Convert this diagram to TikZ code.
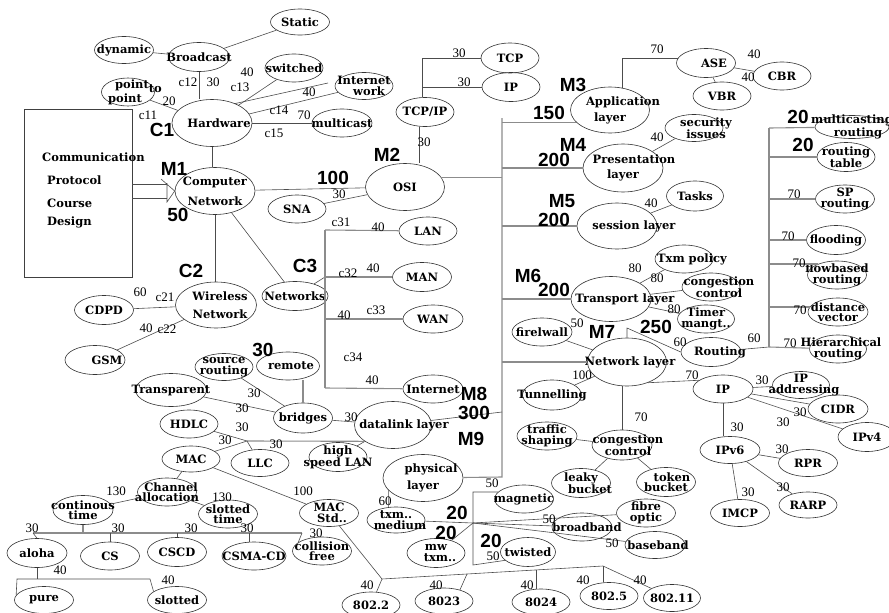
\documentclass[tikz,border=0pt]{standalone}
\usepackage{fontspec}
\setmainfont{Liberation Serif}
\newfontfamily\ellserif{DejaVu Serif}
\newfontfamily\tagsans{Liberation Sans}
\usetikzlibrary{shapes.geometric}

\newcommand{\ellfont}{\ellserif\bfseries\fontsize{11.5}{10.5}\selectfont}
\newcommand{\wtfont}{\fontsize{13}{13}\selectfont}
\newcommand{\tagfont}{\tagsans\bfseries\fontsize{19}{19}\selectfont}

\tikzset{
  topic/.style={ellipse, draw=black!80, line width=0.6pt, minimum width=59pt, minimum height=28pt,
                inner xsep=-70pt, inner ysep=-6pt, align=center, font=\ellfont},
  layer/.style={topic, minimum width=80pt, minimum height=47pt},
  wt/.style={inner sep=0pt, font=\wtfont},
  tag/.style={inner sep=0pt, font=\tagfont},
  boxtxt/.style={inner sep=0pt, anchor=west, font=\ellfont},
  link/.style={draw=black!70, line width=0.6pt},
  bus/.style={draw=black!45, line width=1.1pt},
}

\begin{document}
\begin{tikzpicture}[x=1pt,y=-1pt]
  \useasboundingbox (0,0) rectangle (889,613) ;

  % course box
  \node[draw=black!75, line width=0.6pt, minimum width=108pt, minimum height=168pt, inner sep=0pt] (cpcd) at (78,193) {} ; %
  \node[boxtxt] (cpcd-a) at (42,157) {Communication} ; %
  \node[boxtxt] (cpcd-b) at (47,180) {Protocol} ; %
  \node[boxtxt] (cpcd-c) at (47,203) {Course} ; %
  \node[boxtxt] (cpcd-d) at (47,222) {Design} ; %

  % M1 computer network
  \node[layer] (cn) at (215,191) {Computer\\[8pt]Network} ; %
  \node[layer] (hw) at (212,123) {\hspace*{14pt}Hardware} ; %
  \node[topic, minimum width=61pt, minimum height=29pt] (bc) at (199,57) {Broadcast} ; %
  \node[topic, minimum height=26pt] (st) at (300,22) {Static} ; %
  \node[topic, minimum height=27pt] (dyn) at (124,50) {dynamic} ; %
  \node[topic, minimum width=53pt] (ptp) at (128,92) {\hspace*{8pt}point\rlap{\raisebox{-4pt}{to}}\\point\hspace*{6pt}} ; %
  \node[topic, minimum width=58pt] (sw) at (294,68) {switched} ; %
  \node[topic, minimum width=58pt, minimum height=27pt] (inet) at (364,86) {Internet\\\hspace*{10pt}work} ; %
  \node[topic, minimum width=60pt] (mc) at (342,123) {multicast} ; %

  \node[layer, minimum width=81pt, minimum height=46pt] (wn) at (216,305) {\hspace*{8pt}Wireless\\[8pt]\hspace*{8pt}Network} ; %
  \node[topic, minimum height=29pt] (cdpd) at (104,310) {CDPD} ; %
  \node[topic, minimum width=60pt, minimum height=29pt] (gsm) at (95,360) {\hspace*{24pt}GSM} ; %

  \node[topic, minimum width=66pt, minimum height=29pt] (nets) at (295,296) {Networks} ; %
  \node[topic, minimum width=58pt] (lan) at (428,231) {LAN} ; %
  \node[topic, minimum height=29pt] (man) at (422,277) {MAN} ; %
  \node[topic, minimum width=60pt] (wan) at (433,319) {WAN} ; %
  \node[topic, minimum width=60pt] (inetn) at (433,389) {Internet} ; %

  % M2 OSI
  \node[layer, minimum width=79pt] (osi) at (405,187) {OSI} ; %
  \node[topic, minimum width=58pt] (sna) at (297,209) {SNA} ; %
  \node[topic, minimum width=58pt, minimum height=29pt] (tcpip) at (425,112) {TCP/IP} ; %
  \node[topic, minimum width=58pt, minimum height=30pt] (tcp) at (510,58) {TCP} ; %
  \node[topic, minimum width=58pt, minimum height=29pt] (ipc) at (511,87) {IP} ; %

  % M3 - M9 layers
  \node[layer, minimum width=79pt, minimum height=46pt] (app) at (610,110) {\hspace*{26pt}Application\\[4pt]layer} ; %
  \node[layer, minimum height=48pt] (pres) at (623,168) {\hspace*{22pt}Presentation\\[4pt]layer} ; %
  \node[layer, minimum height=46pt] (ses) at (617,226) {\hspace*{34pt}session layer} ; %
  \node[layer, minimum height=45pt] (tr) at (611,299) {\hspace*{28pt}Transport layer} ; %
  \node[layer, minimum width=79pt, minimum height=48pt] (nl) at (627,362) {\hspace*{6pt}Network layer} ; %
  \node[layer, minimum width=77pt] (dl) at (393,425) {\hspace*{22pt}datalink layer} ; %
  \node[layer] (phy) at (423,478) {\hspace*{16pt}physical\\[4pt]layer} ; %

  % application side
  \node[topic, minimum height=29pt] (ase) at (706,63) {\hspace*{16pt}ASE} ; %
  \node[topic, minimum width=58pt] (cbr) at (782,76) {CBR} ; %
  \node[topic, minimum width=58pt] (vbr) at (722,96) {VBR} ; %
  \node[topic, minimum width=58pt, minimum height=27pt] (sec) at (694,128) {\hspace*{24pt}security\\\hspace*{24pt}issues} ; %
  \node[topic, minimum width=57pt, minimum height=30pt] (tasks) at (695,196) {Tasks} ; %
  \node[topic, minimum width=58pt] (txp) at (684,259) {\hspace*{16pt}Txm policy} ; %
  \node[topic, minimum width=58pt] (cc1) at (711,287) {\hspace*{16pt}congestion\\\hspace*{16pt}control} ; %
  \node[topic, minimum width=57pt] (tim) at (706,319) {Timer\\mangt..} ; %

  % network layer side
  \node[topic, minimum width=60pt] (fw) at (542,332) {firelwall} ; %
  \node[topic, minimum width=60pt, minimum height=29pt] (rt) at (711,352) {\hspace*{18pt}Routing} ; %
  \node[topic, minimum height=30pt] (tun) at (552,395) {Tunnelling} ; %
  \node[topic, minimum width=60pt] (ts) at (547,436) {traffic\\shaping} ; %
  \node[topic, minimum width=60pt, minimum height=30pt] (cc2) at (622,445) {\hspace*{12pt}congestion\\\hspace*{12pt}control} ; %
  \node[topic, minimum height=29pt] (lb) at (581,483) {leaky\\\hspace*{18pt}bucket} ; %
  \node[topic, minimum height=29pt] (tb) at (666,482) {\hspace*{12pt}token\\bucket} ; %

  \node[topic, minimum width=60pt] (ip) at (723,389) {IP} ; %
  \node[topic, minimum width=57pt, minimum height=27pt] (ipa) at (801,385) {IP\\\hspace*{6pt}addressing} ; %
  \node[topic, minimum width=60pt] (cidr) at (838,409) {CIDR} ; %
  \node[topic, minimum width=58pt, minimum height=29pt] (ipv4) at (867,437) {IPv4} ; %
  \node[topic, minimum width=60pt, minimum height=27pt] (ipv6) at (730,450) {IPv6} ; %
  \node[topic, minimum height=27pt] (rpr) at (808,463) {RPR} ; %
  \node[topic, minimum width=58pt, minimum height=26pt] (rarp) at (808,505) {RARP} ; %
  \node[topic, minimum height=27pt] (imcp) at (740,513) {IMCP} ; %

  % routing algorithms
  \node[topic, minimum width=74pt, minimum height=23pt] (mcr) at (852,127) {multicasting\\\hspace*{12pt}routing} ; %
  \node[topic, minimum width=58pt, minimum height=29pt] (rtab) at (846,157) {routing\\table} ; %
  \node[topic] (spr) at (845,199) {SP\\routing} ; %
  \node[topic, minimum height=29pt] (fl) at (836,240) {flooding} ; %
  \node[topic] (fb) at (837,275) {flowbased\\routing} ; %
  \node[topic, minimum width=60pt] (dv) at (838,312) {distance\\vector} ; %
  \node[topic, minimum width=57pt] (hier) at (838,349) {\hspace*{6pt}Hierarchical\\routing} ; %

  % datalink side
  \node[topic, minimum height=30pt] (br) at (303,418) {bridges} ; %
  \node[topic, minimum width=63pt] (rem) at (288,366) {\hspace*{6pt}remote} ; %
  \node[topic, minimum width=58pt, minimum height=27pt] (sr) at (224,367) {source\\routing} ; %
  \node[topic, minimum width=71pt, minimum height=33pt] (tp) at (171,390) {Transparent} ; %
  \node[topic, minimum width=58pt, minimum height=29pt] (hsl) at (338,457) {high\\speed LAN} ; %
  \node[topic, minimum width=58pt] (hdlc) at (189,424) {HDLC} ; %
  \node[topic, minimum width=58pt, minimum height=27pt] (llc) at (260,463) {LLC} ; %
  \node[topic, minimum width=58pt, minimum height=26pt] (mac) at (191,459) {MAC} ; %
  \node[topic] (ca) at (167,492) {\hspace*{8pt}Channel\\allocation} ; %
  \node[topic, minimum height=27pt] (macstd) at (329,513) {MAC\\\hspace*{6pt}Std..} ; %
  \node[topic, minimum width=60pt, minimum height=29pt] (ct) at (83,510) {continous\\time} ; %
  \node[topic] (slt) at (228,514) {slotted\\time} ; %
  \node[topic, minimum width=60pt, minimum height=29pt] (aloha) at (37,553) {aloha} ; %
  \node[topic] (cs) at (110,556) {CS} ; %
  \node[topic, minimum height=29pt] (cscd) at (177,552) {CSCD} ; %
  \node[topic, minimum width=64pt] (csma) at (254,556) {CSMA-CD} ; %
  \node[topic] (cf) at (322,551) {collision\\free} ; %
  \node[topic, minimum height=27pt] (pure) at (44,600) {pure} ; %
  \node[topic, minimum height=27pt] (slot) at (177,600) {slotted} ; %

  % 802 standards
  \node[topic, minimum width=58pt, minimum height=26pt] (d8022) at (371,605) {802.2} ; %
  \node[topic, minimum width=58pt, minimum height=26pt] (d8023) at (444,601) {8023} ; %
  \node[topic, minimum width=58pt, minimum height=26pt] (d8024) at (541,602) {8024} ; %
  \node[topic, minimum width=58pt, minimum height=27pt] (d8025) at (609,596) {802.5} ; %
  \node[topic, minimum width=57pt, minimum height=27pt] (d80211) at (672,598) {802.11} ; %

  % physical side
  \node[topic, minimum width=58pt, minimum height=26pt] (txm) at (396,520) {txm..\\\hspace*{8pt}medium} ; %
  \node[topic] (mag) at (524,499) {magnetic} ; %
  \node[topic] (fo) at (646,513) {fibre\\optic} ; %
  \node[topic, minimum width=60pt] (bb) at (582,527) {\hspace*{10pt}broadband} ; %
  \node[topic, minimum width=60pt, minimum height=27pt] (bsb) at (655,545) {\hspace*{6pt}baseband} ; %
  \node[topic, minimum width=58pt, minimum height=29pt] (mw) at (436,553) {mw\\\hspace*{8pt}txm..} ; %
  \node[topic, minimum width=55pt, minimum height=29pt] (tw) at (528,552) {twisted} ; %

  % bus points
  \coordinate (mtop) at (502,118) ;
  \coordinate (mbot) at (502,477) ;
  \coordinate (m-dl) at (502,412) ;
  \coordinate (rtop) at (769,128) ;
  \coordinate (rbot) at (769,347) ;
  \coordinate (ntop) at (325,230) ;
  \coordinate (nbot) at (325,388) ;
  \coordinate (nmid) at (325,277) ;
  \coordinate (tcpbus) at (422,58) ;
  \coordinate (rbend) at (627,328) ;
  \coordinate (dlj) at (247,441) ;
  \coordinate (ctbus-l) at (33,533) ;
  \coordinate (ctbus-r) at (302,533) ;
  \coordinate (al) at (17,579) ;
  \coordinate (ar) at (150,579) ;
  \coordinate (b802l) at (382,579) ;
  \coordinate (b802r) at (603,566) ;
  \coordinate (t8023) at (467,574) ;
  \coordinate (t8024) at (536,570) ;
  \coordinate (pj) at (473,523) ;
  \coordinate (ptop) at (473,492) ;
  \coordinate (pbot) at (473,565) ;
  \coordinate (inet-x) at (328,83) ;
  \coordinate (ar-1) at (167,184) ;
  \coordinate (ar-2) at (167,198) ;
  \coordinate (ar-a) at (161,179) ;
  \coordinate (ar-b) at (167,202) ;
  \coordinate (ar-c) at (167,183) ;

  % box arrow
  \draw[link] (ar-1 -| cpcd.east) -- (ar-1) ;
  \draw[link] (ar-2 -| cpcd.east) -- (ar-2) ;
  \draw[link] (ar-a) -- (cn.west) -- (ar-b) -- (ar-c) ;

  % M1 edges
  \draw[link] (bc.south) -- (bc.south |- hw.north) ;
  \draw[link] (bc) -- (st) ;
  \draw[link] (dyn) -- (bc) ;
  \draw[link] (ptp) -- (hw) ;
  \draw[link] (hw) -- (sw) ;
  \draw[link] (hw.40) -- (inet-x) ;
  \draw[link] (hw) -- (inet) ;
  \draw[link] (hw) -- (mc) ;
  \draw[link] (hw.south) -- (hw.south |- cn.north) ;
  \draw[link] (cn) -- (osi) ;
  \draw[link] (cn.south) -- (cn.south |- wn.north) ;
  \draw[link] (wn) -- (cdpd) ;
  \draw[link] (wn) -- (gsm) ;
  \draw[link] (cn) -- (nets) ;

  % networks bus
  \draw[link] (nets) -- (nmid) ;
  \draw[bus] (ntop) -- (nbot) ;
  \draw[bus] (ntop) -- (lan) ;
  \draw[bus] (nmid) -- (man) ;
  \draw[bus] (wan -| ntop) -- (wan) ;
  \draw[bus] (nbot) -- (inetn) ;

  % M2 edges
  \draw[link] (osi) -- (sna) ;
  \draw[link] (tcpip.250 |- osi.north) -- (tcpip.250) ;
  \draw[link] (tcp) -- (tcpbus) -- (tcpbus |- tcpip.north) ;
  \draw[link] (ipc) -- (ipc -| tcpbus) ;

  % layer bus
  \draw[bus] (osi.15) -- (osi.15 -| mtop) ;
  \draw[bus] (mtop) -- (mbot) -- (phy) ;
  \draw[bus] (app.200 -| mtop) -- (app.200) ;
  \draw[bus] (pres -| mtop) -- (pres) ;
  \draw[bus] (ses -| mtop) -- (ses) ;
  \draw[bus] (tr -| mtop) -- (tr) ;
  \draw[bus] (nl -| mtop) -- (nl) ;
  \draw[link] (dl) -- (m-dl) ;

  % application side edges
  \draw[link] (app.60) |- (ase.170) ;
  \draw[link] (ase) -- (cbr) ;
  \draw[link] (ase) -- (vbr) ;
  \draw[link] (pres) -- (sec) ;
  \draw[link] (ses) -- (tasks) ;
  \draw[link] (tr) -- (txp) ;
  \draw[link] (tr) -- (cc1) ;
  \draw[link] (tr) -- (tim) ;

  % network layer edges
  \draw[link] (fw) -- (nl) ;
  \draw[link] (nl) -- (tun) ;
  \draw[link] (nl.north) -- (rbend) -- (rt.west) ;
  \draw[link] (rt) -- (rbot) ;
  \draw[link] (nl.-45) -- (ip.160) ;
  \draw[link] (cc2.north |- nl.south) -- (cc2.north) ;
  \draw[link] (ts) -- (cc2) ;
  \draw[link] (cc2) -- (lb) ;
  \draw[link] (cc2) -- (tb) ;
  \draw[link] (ip) -- (ipa) ;
  \draw[link] (ip) -- (cidr) ;
  \draw[link] (ip) -- (ipv4) ;
  \draw[link] (ipv6.north -| ip) -- (ip.south) ;
  \draw[link] (ipv6) -- (rpr) ;
  \draw[link] (ipv6) -- (rarp) ;
  \draw[link] (ipv6) -- (imcp) ;

  % routing bus
  \draw[bus] (rtop) -- (rbot) ;
  \draw[bus] (rtop) -- (mcr) ;
  \draw[bus] (rtab -| rtop) -- (rtab) ;
  \draw[bus] (spr -| rtop) -- (spr) ;
  \draw[bus] (fl -| rtop) -- (fl) ;
  \draw[bus] (fb.150 -| rtop) -- (fb.150) ;
  \draw[bus] (dv.170 -| rtop) -- (dv.170) ;
  \draw[bus] (rbot) -- (hier) ;

  % datalink edges
  \draw[link] (br) -- (dl) ;
  \draw[bus] (br.north) -- (br.north |- rem.south) ;
  \draw[link] (sr) -- (br) ;
  \draw[link] (tp) -- (br) ;
  \draw[link] (dl) -- (hsl) ;
  \draw[bus] (dl.210) -- (dlj) ;
  \draw[link] (dlj) -- (hdlc) ;
  \draw[link] (dlj) -- (mac) ;
  \draw[link] (dlj) -- (llc) ;
  \draw[link] (mac) -- (ca) ;
  \draw[link] (mac) -- (macstd) ;
  \draw[link] (ca) -- (ct) ;
  \draw[link] (ca) -- (slt) ;
  \draw[bus] (ctbus-l) -- (ctbus-r) ;
  \draw[bus] (ct.south) -- (ct.south |- ctbus-l) ;
  \draw[link] (ctbus-l) -- (aloha.north) ;
  \draw[link] (cs.north |- ctbus-l) -- (cs.north) ;
  \draw[link] (cscd.north |- ctbus-l) -- (cscd.north) ;
  \draw[link] (csma.110 |- ctbus-l) -- (csma.110) ;
  \draw[link] (ctbus-r) -- (cf.160) ;
  \draw[link] (aloha.south) -- (aloha.south |- al) ;
  \draw[link] (pure.170) -- (al) -- (ar) -- (slot.160) ;

  % 802 edges
  \draw[link] (macstd) -- (b802l) -- (b802r) -- (d80211) ;
  \draw[link] (b802l) -- (d8022) ;
  \draw[link] (t8023) -- (d8023.35) ;
  \draw[link] (t8024) -- (t8024 |- d8024.north) ;
  \draw[link] (b802r) -- (b802r |- d8025.north) ;

  % physical edges
  \draw[link] (phy.200) -- (txm.120) ;
  \draw[link] (txm) -- (pj) ;
  \draw[link] (mag.165) -- (ptop) -- (pbot) -- (tw.200) ;
  \draw[link] (pj) -- (mw) ;
  \draw[link] (pj) -- (fo) ;
  \draw[link] (pj) -- (bb) ;
  \draw[link] (pj) -- (bsb) ;

  % big tags
  \node[tag] (g-c1) at (162,130) {C1} ; %
  \node[tag] (g-m1) at (174,169) {M1} ; %
  \node[tag] (g-50) at (178,215) {50} ; %
  \node[tag] (g-m2) at (387,155) {M2} ; %
  \node[tag] (g-100) at (333,178) {100} ; %
  \node[tag] (g-c2) at (191,271) {C2} ; %
  \node[tag] (g-c3) at (305,266) {C3} ; %
  \node[tag] (g-30) at (263,350) {30} ; %
  \node[tag] (g-m3) at (573,85) {M3} ; %
  \node[tag] (g-150) at (549,113) {150} ; %
  \node[tag] (g-m4) at (573,145) {M4} ; %
  \node[tag] (g-200a) at (554,160) {200} ; %
  \node[tag] (g-m5) at (562,201) {M5} ; %
  \node[tag] (g-200b) at (554,220) {200} ; %
  \node[tag] (g-m6) at (528,276) {M6} ; %
  \node[tag] (g-200c) at (554,290) {200} ; %
  \node[tag] (g-m7) at (602,332) {M7} ; %
  \node[tag] (g-250) at (656,327) {250} ; %
  \node[tag] (g-m8) at (474,394) {M8} ; %
  \node[tag] (g-300) at (474,413) {300} ; %
  \node[tag] (g-m9) at (471,439) {M9} ; %
  \node[tag] (g-20a) at (798,117) {20} ; %
  \node[tag] (g-20b) at (803,145) {20} ; %
  \node[tag] (g-20c) at (457,513) {20} ; %
  \node[tag] (g-20d) at (446,533) {20} ; %
  \node[tag] (g-20e) at (491,541) {20} ; %

  % weights and link names
  \node[wt] (c11) at (148,115) {c11} ; %
  \node[wt] (w-ptp) at (169,101) {20} ; %
  \node[wt] (c12) at (188,82) {c12} ; %
  \node[wt] (w-bc) at (213,82) {30} ; %
  \node[wt] (w-sw) at (247,72) {40} ; %
  \node[wt] (c13) at (240,87) {c13} ; %
  \node[wt] (w-inet) at (309,92) {40} ; %
  \node[wt] (c14) at (279,110) {c14} ; %
  \node[wt] (w-mc) at (304,115) {70} ; %
  \node[wt] (c15) at (274,133) {c15} ; %
  \node[wt] (w-tcpip) at (424,142) {30} ; %
  \node[wt] (w-tcp) at (459,53) {30} ; %
  \node[wt] (w-ip) at (464,82) {30} ; %
  \node[wt] (w-sna) at (339,194) {30} ; %
  \node[wt] (w-ase) at (657,49) {70} ; %
  \node[wt] (w-cbr) at (754,54) {40} ; %
  \node[wt] (w-vbr) at (748,77) {40} ; %
  \node[wt] (w-sec) at (657,137) {40} ; %
  \node[wt] (w-tasks) at (651,203) {40} ; %
  \node[wt] (w-txp) at (635,268) {80} ; %
  \node[wt] (w-cc1) at (657,278) {80} ; %
  \node[wt] (w-tim) at (674,309) {80} ; %
  \node[wt] (w-fw) at (577,323) {50} ; %
  \node[wt] (w-rt) at (680,342) {60} ; %
  \node[wt] (w-rbus) at (754,338) {60} ; %
  \node[wt] (w-tun) at (582,375) {100} ; %
  \node[wt] (w-ip4nl) at (692,375) {70} ; %
  \node[wt] (w-cc2) at (641,417) {70} ; %
  \node[wt] (w-spr) at (794,194) {70} ; %
  \node[wt] (w-fl) at (788,236) {70} ; %
  \node[wt] (w-fb) at (799,263) {70} ; %
  \node[wt] (w-dv) at (800,310) {70} ; %
  \node[wt] (w-hier) at (790,343) {70} ; %
  \node[wt] (w-ipa) at (762,380) {30} ; %
  \node[wt] (w-cidr) at (800,412) {30} ; %
  \node[wt] (w-ipv4) at (783,422) {30} ; %
  \node[wt] (w-ipv6) at (737,427) {30} ; %
  \node[wt] (w-rpr) at (782,449) {30} ; %
  \node[wt] (w-rarp) at (783,487) {30} ; %
  \node[wt] (w-imcp) at (748,492) {30} ; %
  \node[wt] (c31) at (341,222) {c31} ; %
  \node[wt] (w-lan) at (378,227) {40} ; %
  \node[wt] (c32) at (348,273) {c32} ; %
  \node[wt] (w-man) at (373,268) {40} ; %
  \node[wt] (w-wan) at (344,315) {40} ; %
  \node[wt] (c33) at (376,310) {c33} ; %
  \node[wt] (c34) at (353,357) {c34} ; %
  \node[wt] (w-inetn) at (372,380) {40} ; %
  \node[wt] (w-cdpd) at (140,292) {60} ; %
  \node[wt] (c21) at (165,297) {c21} ; %
  \node[wt] (w-gsm) at (146,328) {40} ; %
  \node[wt] (c22) at (167,329) {c22} ; %
  \node[wt] (w-sr) at (254,393) {30} ; %
  \node[wt] (w-tp) at (242,408) {30} ; %
  \node[wt] (w-br) at (351,417) {30} ; %
  \node[wt] (w-hdlc) at (242,427) {30} ; %
  \node[wt] (w-mac) at (225,440) {30} ; %
  \node[wt] (w-llc) at (276,444) {30} ; %
  \node[wt] (w-ct) at (116,491) {130} ; %
  \node[wt] (w-slt) at (222,497) {130} ; %
  \node[wt] (w-macstd) at (303,491) {100} ; %
  \node[wt] (w-aloha) at (32,528) {30} ; %
  \node[wt] (w-cs) at (118,528) {30} ; %
  \node[wt] (w-cscd) at (191,528) {30} ; %
  \node[wt] (w-csma) at (247,528) {30} ; %
  \node[wt] (w-cf) at (316,533) {30} ; %
  \node[wt] (w-pure) at (60,570) {40} ; %
  \node[wt] (w-slot) at (168,580) {40} ; %
  \node[wt] (w-8022) at (367,585) {40} ; %
  \node[wt] (w-8023) at (436,585) {40} ; %
  \node[wt] (w-8024) at (527,585) {40} ; %
  \node[wt] (w-8025) at (583,580) {40} ; %
  \node[wt] (w-80211) at (640,580) {40} ; %
  \node[wt] (w-phy) at (492,483) {50} ; %
  \node[wt] (w-txm) at (385,501) {60} ; %
  \node[wt] (w-bb) at (549,519) {50} ; %
  \node[wt] (w-bsb) at (612,543) {50} ; %
  \node[wt] (w-tw) at (493,556) {50} ; %
\end{tikzpicture}
\end{document}
